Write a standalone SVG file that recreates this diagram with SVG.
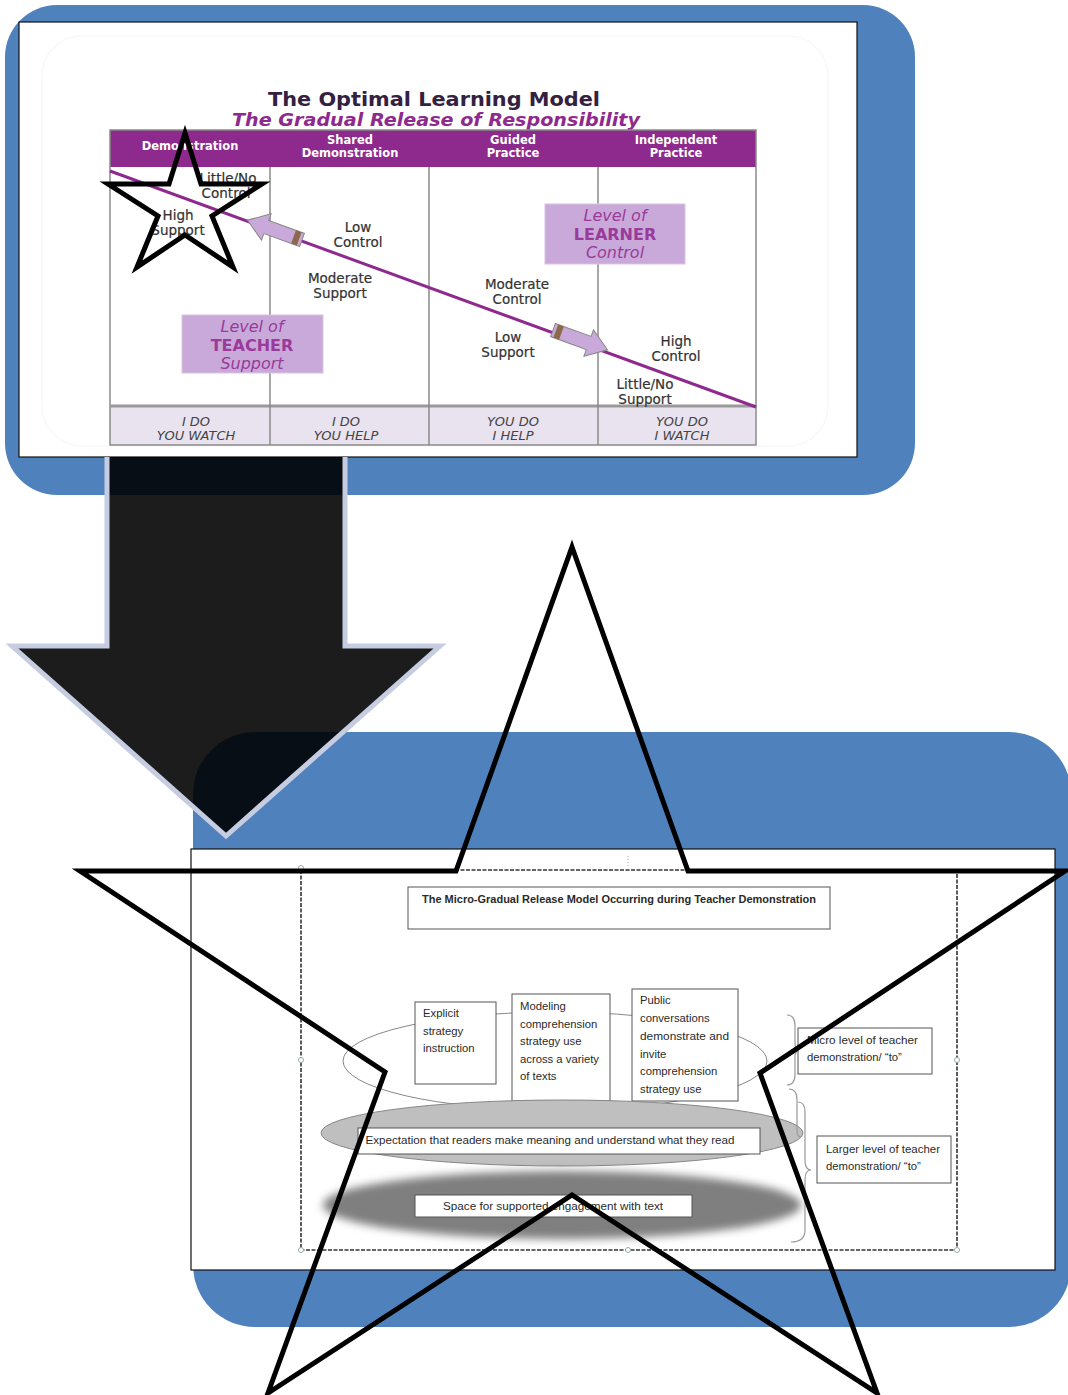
<svg xmlns="http://www.w3.org/2000/svg" width="1068" height="1395" viewBox="0 0 1068 1395">
<style>
.blue{fill:#4F81BD}
.panel{fill:#fff;stroke:#111;stroke-width:1.2}
.hdr{font-family:"DejaVu Sans",Verdana,sans-serif;font-weight:bold;font-size:11.5px;fill:#fff;text-anchor:middle}
.lbl{font-family:"DejaVu Sans",Verdana,sans-serif;font-size:13.5px;fill:#333;text-anchor:middle;stroke:#333;stroke-width:0.2}
.foot{font-family:"DejaVu Sans",Verdana,sans-serif;font-style:italic;font-size:13px;fill:#444;text-anchor:middle}
.lv{font-family:"DejaVu Sans",Verdana,sans-serif;font-size:16px;fill:#9A3A9A;text-anchor:middle}
.grid{stroke:#8a8a8a;stroke-width:1.5;fill:none}
.lvbox{fill:#C9A9D9;stroke:#d8c4e2;stroke-width:1}
.bt{font-family:"Liberation Sans",Arial,sans-serif;font-size:11.3px;fill:#2a2a2a}
.bx{fill:#fff;stroke:#555;stroke-width:1}
.star{fill:none;stroke:#000;stroke-width:5;stroke-linejoin:miter}
.brace{fill:none;stroke:#999;stroke-width:1.2}
.handle{fill:#fff;stroke:#9aa;stroke-width:1}
.tarrow{fill:#C9A9D9;stroke:#888;stroke-width:1}
</style>
<defs>
<filter id="blur" x="-20%" y="-50%" width="140%" height="200%"><feGaussianBlur stdDeviation="4"/></filter>
</defs>

<!-- top blue backdrop -->
<rect id="top-backdrop" class="blue" x="5" y="5" width="910" height="490" rx="52"/>

<!-- top picture -->
<g id="top-picture">
<rect class="panel" x="19" y="22" width="838" height="435"/>
<rect x="42" y="36" width="786" height="410" rx="40" fill="none" stroke="#f8f8f8" stroke-width="1.5"/>
<text x="434" y="106" text-anchor="middle" font-family="DejaVu Sans,Verdana,sans-serif" font-weight="bold" font-size="19" fill="#34203F" textLength="332" lengthAdjust="spacingAndGlyphs">The Optimal Learning Model</text>
<text x="436" y="126" text-anchor="middle" font-family="DejaVu Sans,Verdana,sans-serif" font-weight="bold" font-style="italic" font-size="18" fill="#8E2A8E" textLength="408" lengthAdjust="spacingAndGlyphs">The Gradual Release of Responsibility</text>
<rect x="110" y="130" width="646" height="37" fill="#8E2A8E"/>
<rect x="110" y="405" width="646" height="40" fill="#E9E3EF"/>
<rect x="110" y="130" width="646" height="315" class="grid"/>
<line x1="110" y1="406" x2="756" y2="406" stroke="#999" stroke-width="3"/>
<line x1="270" y1="167" x2="270" y2="445" class="grid"/>
<line x1="429" y1="167" x2="429" y2="445" class="grid"/>
<line x1="598" y1="167" x2="598" y2="445" class="grid"/>
<text class="hdr" x="190" y="150">Demonstration</text>
<text class="hdr" x="350" y="144">Shared</text>
<text class="hdr" x="350" y="157">Demonstration</text>
<text class="hdr" x="513" y="144">Guided</text>
<text class="hdr" x="513" y="157">Practice</text>
<text class="hdr" x="676" y="144">Independent</text>
<text class="hdr" x="676" y="157">Practice</text>
<line x1="110" y1="171" x2="756" y2="407" stroke="#8E2A8E" stroke-width="3"/>
<g transform="translate(302,240) rotate(200)">
<polygon class="tarrow" points="0,-7 38,-7 38,-14 58,0 38,14 38,7 0,7"/>
<rect x="3" y="-7" width="6" height="14" fill="#8a6a4a"/>
</g>
<g transform="translate(553,330) rotate(20)">
<polygon class="tarrow" points="0,-7 38,-7 38,-14 58,0 38,14 38,7 0,7"/>
<rect x="3" y="-7" width="6" height="14" fill="#8a6a4a"/>
</g>
<text class="lbl" x="228" y="183">Little/No</text>
<text class="lbl" x="226" y="198">Control</text>
<text class="lbl" x="178" y="220">High</text>
<text class="lbl" x="178" y="235">Support</text>
<text class="lbl" x="358" y="232">Low</text>
<text class="lbl" x="358" y="247">Control</text>
<text class="lbl" x="340" y="283">Moderate</text>
<text class="lbl" x="340" y="298">Support</text>
<text class="lbl" x="517" y="289">Moderate</text>
<text class="lbl" x="517" y="304">Control</text>
<text class="lbl" x="508" y="342">Low</text>
<text class="lbl" x="508" y="357">Support</text>
<text class="lbl" x="676" y="346">High</text>
<text class="lbl" x="676" y="361">Control</text>
<text class="lbl" x="645" y="389">Little/No</text>
<text class="lbl" x="645" y="404">Support</text>
<rect class="lvbox" x="182" y="315" width="141" height="58"/>
<text class="lv" x="252" y="332" font-style="italic">Level of</text>
<text class="lv" x="252" y="351" font-weight="bold" font-size="17.5" fill="#8E2A8E">TEACHER</text>
<text class="lv" x="252" y="369" font-style="italic">Support</text>
<rect class="lvbox" x="545" y="204" width="140" height="60"/>
<text class="lv" x="615" y="221" font-style="italic">Level of</text>
<text class="lv" x="615" y="240" font-weight="bold" font-size="17.5" fill="#8E2A8E">LEARNER</text>
<text class="lv" x="615" y="258" font-style="italic">Control</text>
<text class="foot" x="196" y="426">I DO</text>
<text class="foot" x="196" y="440">YOU WATCH</text>
<text class="foot" x="346" y="426">I DO</text>
<text class="foot" x="346" y="440">YOU HELP</text>
<text class="foot" x="513" y="426">YOU DO</text>
<text class="foot" x="513" y="440">I HELP</text>
<text class="foot" x="682" y="426">YOU DO</text>
<text class="foot" x="682" y="440">I WATCH</text>
</g>

<!-- bottom blue backdrop -->
<rect id="bottom-backdrop" class="blue" x="193" y="732" width="878" height="595" rx="62"/>

<!-- connector: big arrow -->
<g id="connectors">
<path d="M107,457 L107,646 L12,646 L226,836 L440,646 L345,646 L345,457" fill="#000" fill-opacity="0.89" stroke="#C6CDE1" stroke-width="5" stroke-linejoin="miter"/>
</g>

<!-- bottom picture -->
<g id="bottom-picture">
<rect class="panel" x="191" y="849" width="864" height="421"/>
<rect x="301" y="870" width="656" height="380" fill="none" stroke="#333" stroke-width="1.6" stroke-dasharray="4,1.5"/>
<circle class="handle" cx="301" cy="1060" r="2.5"/>
<circle class="handle" cx="301" cy="1250" r="2.5"/>
<circle class="handle" cx="628" cy="1250" r="2.5"/>
<circle class="handle" cx="957" cy="1060" r="2.5"/>
<circle class="handle" cx="957" cy="1250" r="2.5"/>
<circle class="handle" cx="301" cy="868" r="2.5"/>
<line x1="628" y1="856" x2="628" y2="868" stroke="#aaa" stroke-width="1" stroke-dasharray="1,2"/>
</g>

<g id="title-box">
<rect class="bx" x="408" y="887" width="422" height="42"/>
<text class="bt" x="619" y="903" text-anchor="middle" font-weight="bold" font-size="10" textLength="394" lengthAdjust="spacingAndGlyphs">The Micro-Gradual Release Model Occurring during Teacher Demonstration</text>
</g>

<g id="ellipse-top">
<ellipse cx="555" cy="1061" rx="212" ry="49" fill="#fff" stroke="#888" stroke-width="1"/>
</g>

<g id="box-explicit">
<rect class="bx" x="415" y="1002" width="81" height="82"/>
<text class="bt" x="423" y="1017">Explicit</text>
<text class="bt" x="423" y="1035">strategy</text>
<text class="bt" x="423" y="1052">instruction</text>
</g>
<g id="box-modeling">
<rect class="bx" x="512" y="994" width="98" height="107"/>
<text class="bt" x="520" y="1010">Modeling</text>
<text class="bt" x="520" y="1028">comprehension</text>
<text class="bt" x="520" y="1045">strategy use</text>
<text class="bt" x="520" y="1063" textLength="79" lengthAdjust="spacingAndGlyphs">across a variety</text>
<text class="bt" x="520" y="1080">of texts</text>
</g>
<g id="box-public">
<rect class="bx" x="632" y="989" width="106" height="112"/>
<text class="bt" x="640" y="1004">Public</text>
<text class="bt" x="640" y="1022">conversations</text>
<text class="bt" x="640" y="1040" textLength="89" lengthAdjust="spacingAndGlyphs">demonstrate  and</text>
<text class="bt" x="640" y="1058">invite</text>
<text class="bt" x="640" y="1075">comprehension</text>
<text class="bt" x="640" y="1093">strategy use</text>
</g>

<g id="ellipse-middle">
<ellipse cx="562" cy="1133" rx="241" ry="33" fill="#BFBFBF" stroke="#888" stroke-width="1"/>
<rect class="bx" x="358" y="1128" width="402" height="26"/>
<text class="bt" x="550" y="1144" text-anchor="middle" textLength="369" lengthAdjust="spacingAndGlyphs">Expectation that readers make meaning and understand what they read</text>
</g>

<g id="ellipse-bottom">
<ellipse cx="562" cy="1205" rx="239" ry="34" fill="#7F7F7F" filter="url(#blur)"/>
<rect class="bx" x="415" y="1195" width="277" height="22"/>
<text class="bt" x="553" y="1210" text-anchor="middle" textLength="220" lengthAdjust="spacingAndGlyphs">Space for supported engagement with text</text>
</g>

<g id="braces">
<path class="brace" d="M787,1015 Q795,1015 795,1026 L795,1043 Q795,1050 800,1050 Q795,1050 795,1057 L795,1074 Q795,1085 787,1085"/>
<path class="brace" d="M789,1089 Q797,1089 797,1100 L797,1130 Q797,1137 801,1137"/>
<path class="brace" d="M798,1102 Q805,1102 805,1112 L805,1160 Q805,1170 811,1170 Q805,1170 805,1180 L805,1230 Q805,1242 791,1242"/>
</g>

<g id="label-micro">
<rect class="bx" x="798" y="1028" width="134" height="46"/>
<text class="bt" x="807" y="1044" textLength="111" lengthAdjust="spacingAndGlyphs">Micro level of teacher</text>
<text class="bt" x="807" y="1061">demonstration/  “to”</text>
</g>
<g id="label-larger">
<rect class="bx" x="817" y="1136" width="134" height="47"/>
<text class="bt" x="826" y="1153" textLength="114" lengthAdjust="spacingAndGlyphs">Larger level of teacher</text>
<text class="bt" x="826" y="1170">demonstration/  “to”</text>
</g>

<!-- stars -->
<g id="small-star">
<polygon class="star" points="185,133 201,184 262,184 212,216 233,267 185,235 137,267 158,216 108,184 169,184"/>
</g>
<g id="big-star">
<polygon class="star" points="572,547 688,871 1065,871 760,1073 877,1393 572,1195 268,1393 385,1072 80,871 456,871"/>
</g>
</svg>
